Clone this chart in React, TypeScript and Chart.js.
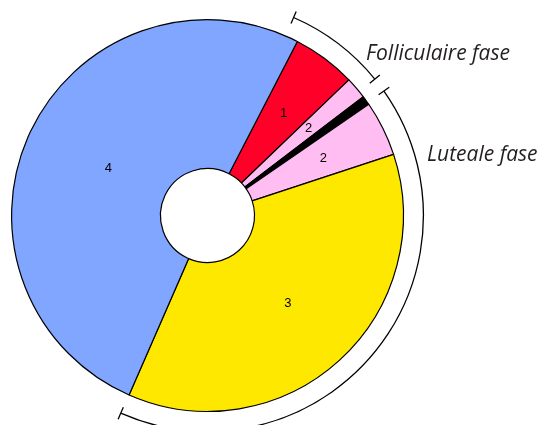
import React, { useEffect, useRef } from "react";
import { Chart, registerables } from "chart.js";

Chart.register(...registerables);

// Segment data (clockwise, starting at the red segment)
const segmentLabels = ["1", "2", "", "2", "3", "4"];
const segmentValues = [18.9, 6.5, 2.7, 16.4, 131.8, 183.7];
const segmentColors = ["#ff0028", "#ffbdf2", "#000000", "#ffbdf2", "#ffe800", "#80a6ff"];
const startRotation = 27.3; // degrees from 12 o'clock

// Phase brackets (degrees clockwise from 12 o'clock)
const phaseNames = ["Folliculaire fase", "Luteale fase"];
const phaseStart = [23.5, 54.8];
const phaseEnd = [50.8, 203.7];

// radial placement of segment labels, as fraction of outer radius
const labelRadius = [0.65, 0.68, 0, 0.66, 0.61, 0.56];

const bracketPlugin = {
  id: "brackets",
  afterDatasetsDraw(chart: any) {
    const ctx = chart.ctx;
    const meta = chart.getDatasetMeta(0);
    const first = meta.data[0];
    if (!first) return;
    const { x, y, outerRadius } = first.getProps(["x", "y", "outerRadius"], true);

    // segment labels
    ctx.save();
    ctx.fillStyle = "#000";
    ctx.font = "13px 'Liberation Sans', Arial, sans-serif";
    ctx.textAlign = "center";
    ctx.textBaseline = "middle";
    meta.data.forEach((arc: any, i: number) => {
      const lbl = segmentLabels[i];
      if (!lbl) return;
      const p = arc.getProps(["startAngle", "endAngle", "outerRadius"], true);
      const a = (p.startAngle + p.endAngle) / 2;
      const r = p.outerRadius * labelRadius[i];
      ctx.fillText(lbl, x + Math.cos(a) * r, y + Math.sin(a) * r);
    });
    ctx.restore();

    // brackets
    const br = outerRadius + 20;
    const tick = 6.5;
    ctx.save();
    ctx.strokeStyle = "#000";
    ctx.lineWidth = 1.3;
    for (let i = 0; i < phaseNames.length; i++) {
      const a0 = (phaseStart[i] * Math.PI) / 180 - Math.PI / 2;
      const a1 = (phaseEnd[i] * Math.PI) / 180 - Math.PI / 2;
      ctx.beginPath();
      ctx.arc(x, y, br, a0, a1);
      ctx.stroke();
      for (const a of [a0, a1]) {
        ctx.beginPath();
        ctx.moveTo(x + Math.cos(a) * (br - tick), y + Math.sin(a) * (br - tick));
        ctx.lineTo(x + Math.cos(a) * (br + tick), y + Math.sin(a) * (br + tick));
        ctx.stroke();
      }
    }
    ctx.restore();

    // phase names
    ctx.save();
    ctx.fillStyle = "#231f20";
    ctx.font = "italic 21px 'Open Sans', sans-serif";
    ctx.textAlign = "left";
    ctx.textBaseline = "alphabetic";
    ctx.fillText(phaseNames[0], 366, 60);
    ctx.fillText(phaseNames[1], 427, 161);
    ctx.restore();
  },
};

export default function App() {
  const ref = useRef<HTMLCanvasElement>(null);
  useEffect(() => {
    document.body.style.margin = "0";
    const chart = new Chart(ref.current as HTMLCanvasElement, {
      type: "doughnut",
      data: {
        labels: segmentLabels,
        datasets: [
          {
            data: segmentValues,
            backgroundColor: segmentColors,
            borderColor: "#000",
            borderWidth: 1.2,
          },
        ],
      },
      options: {
        responsive: false,
        animation: false,
        cutout: "24%",
        rotation: startRotation,
        layout: { padding: { left: 11, right: 136, top: 19, bottom: 13 } },
        plugins: { legend: { display: false }, tooltip: { enabled: false } },
      },
      plugins: [bracketPlugin],
    });
    return () => chart.destroy();
  }, []);
  return <canvas ref={ref} width={540} height={425} style={{ display: "block" }} />;
}
